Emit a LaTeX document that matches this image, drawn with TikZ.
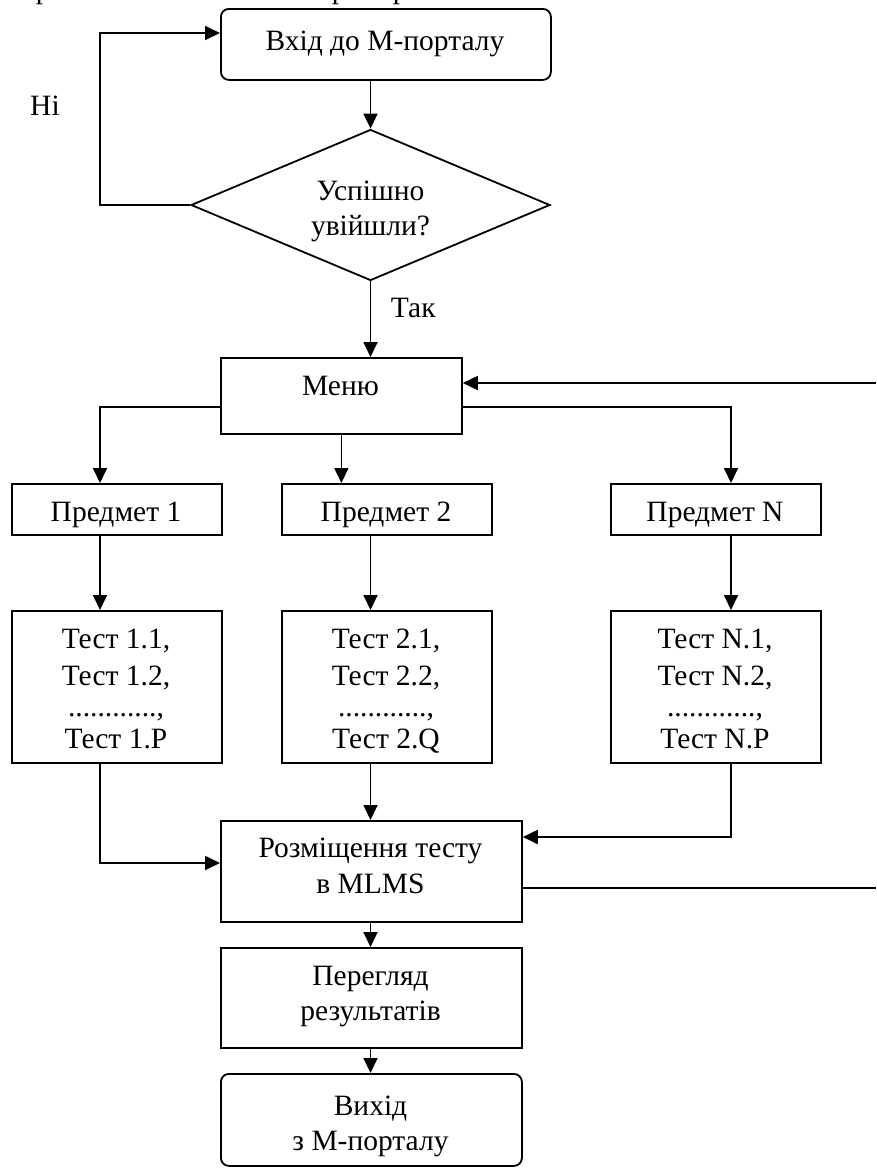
\documentclass[tikz,border=0pt]{standalone}
\usepackage{fontspec}
\setmainfont{Liberation Serif}
\usetikzlibrary{arrows.meta,shapes.geometric}
\newcommand\diagfont{\fontsize{29.5}{35.5}\selectfont}
\begin{document}
\begin{tikzpicture}[x=1pt,y=-1pt,line width=1.8pt,
  box/.style={draw,rectangle,inner sep=0pt,anchor=north west},
  rbox/.style={box,rounded corners=8pt},
  decbox/.style={draw,diamond,inner sep=0pt,minimum width=359pt,minimum height=151pt},
  txt/.style={font=\diagfont,anchor=base,inner sep=0pt},
  arr/.style={-{Triangle[length=15pt,width=14pt]}}]
\useasboundingbox (0,0) rectangle (876,1173);

% descenders of the preceding text line, cut by the page edge
\begin{scope}
  \clip (0,0) rectangle (876,1173);
  \node[txt,anchor=base west] (frag1) at (35,-1.5) {р};
  \node[txt,anchor=base west] (frag2) at (331,-1.5) {р};
  \node[txt,anchor=base west] (frag3) at (392,-1.5) {р};
\end{scope}

% column and row helpers
\coordinate (cL) at (100,0);
\coordinate (cM) at (370.5,0);
\coordinate (cN) at (731,0);
\coordinate (yLoop) at (0,33);
\coordinate (yMenuOut) at (0,407);
\coordinate (yIn1) at (0,863);
\coordinate (yInN) at (0,837);
\coordinate (yOut) at (0,888);

% blocks
\node[rbox,minimum width=330pt,minimum height=71pt] (start) at (220,8) {};
\node[decbox] (dec) at (370.5,205) {};
\node[box,minimum width=241pt,minimum height=76pt] (menu) at (220,357) {};
\node[box,minimum width=210pt,minimum height=51pt] (p1) at (11,483) {};
\node[box,minimum width=210pt,minimum height=51pt] (p2) at (281,483) {};
\node[box,minimum width=210pt,minimum height=51pt] (pN) at (610,483) {};
\node[box,minimum width=210pt,minimum height=152pt] (t1) at (11,610) {};
\node[box,minimum width=210pt,minimum height=152pt] (t2) at (281,610) {};
\node[box,minimum width=210pt,minimum height=152pt] (tN) at (610,610) {};
\node[box,minimum width=301pt,minimum height=101pt] (place) at (220,820) {};
\node[box,minimum width=301pt,minimum height=100pt] (view) at (220,947) {};
\node[rbox,minimum width=301pt,minimum height=92pt] (exit) at (220,1073) {};

% texts
\node[txt] (start-t) at (385,50) {Вхід до М-порталу};
\node[txt] (dec-t1) at (370.5,200) {Успішно};
\node[txt] (dec-t2) at (370.5,235) {увійшли?};
\node[txt,anchor=base west] (yes) at (390,317) {Так};
\node[txt] (no) at (45,115) {Ні};
\node[txt] (menu-t) at (340.5,395) {Меню};
\node[txt] (p1-t) at (116,521) {Предмет 1};
\node[txt] (p2-t) at (386,521) {Предмет 2};
\node[txt] (pN-t) at (715,521) {Предмет N};

\node[txt] (t1-a) at (116,648) {Тест 1.1,};
\node[txt] (t1-b) at (116,685) {Тест 1.2,};
\node[txt] (t1-c) at (116,716) {............,};
\node[txt] (t1-d) at (116,748) {Тест 1.P};
\node[txt] (t2-a) at (386,648) {Тест 2.1,};
\node[txt] (t2-b) at (386,685) {Тест 2.2,};
\node[txt] (t2-c) at (386,716) {............,};
\node[txt] (t2-d) at (386,748) {Тест 2.Q};
\node[txt] (tN-a) at (715,648) {Тест N.1,};
\node[txt] (tN-b) at (715,685) {Тест N.2,};
\node[txt] (tN-c) at (715,716) {............,};
\node[txt] (tN-d) at (715,748) {Тест N.P};

\node[txt] (place-t1) at (370.5,857) {Розміщення тесту};
\node[txt] (place-t2) at (370.5,893) {в MLMS};
\node[txt] (view-t1) at (370.5,985) {Перегляд};
\node[txt] (view-t2) at (370.5,1020) {результатів};
\node[txt] (exit-t1) at (370.5,1115) {Вихід};
\node[txt] (exit-t2) at (370.5,1150) {з М-порталу};

% loose ends at the right edge
\coordinate (backIn) at (876,383);
\coordinate (backOut) at (876,888);

% connectors
\draw[arr] (start.south -| cM) -- (dec.north);
\draw[arr] (dec.west) -| (cL |- yLoop) -- (start.west |- yLoop);
\draw[arr] (dec.south) -- (menu.north -| cM);
\draw[arr] (backIn) -- (menu.east |- backIn);
\draw[arr] (menu.west |- yMenuOut) -| (p1.north -| cL);
\draw[arr] (menu.east |- yMenuOut) -| (pN.north -| cN);
\draw[arr] (menu.south) -- (p2.north -| menu.south);
\draw[arr] (p1.south -| cL) -- (t1.north -| cL);
\draw[arr] (p2.south -| cM) -- (t2.north -| cM);
\draw[arr] (pN.south -| cN) -- (tN.north -| cN);
\draw[arr] (t1.south -| cL) |- (place.west |- yIn1);
\draw[arr] (t2.south -| cM) -- (place.north -| cM);
\draw[arr] (tN.south -| cN) |- (place.east |- yInN);
\draw (place.east |- yOut) -- (backOut);
\draw[arr] (place.south -| cM) -- (view.north -| cM);
\draw[arr] (view.south -| cM) -- (exit.north -| cM);
\end{tikzpicture}
\end{document}
